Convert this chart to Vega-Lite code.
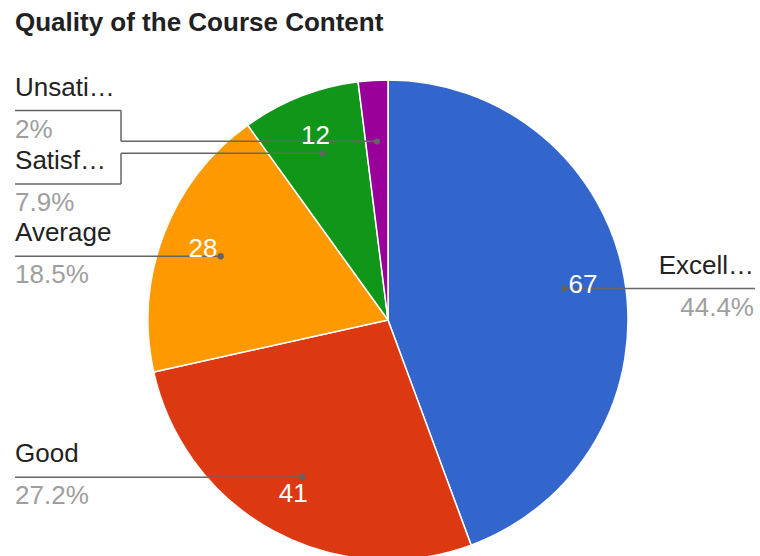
{
  "$schema": "https://vega.github.io/schema/vega-lite/v6.json",
  "width": 760,
  "height": 516,
  "autosize": {"type": "none"},
  "padding": {"top": 40, "left": 0, "right": 0, "bottom": 0},
  "background": "#ffffff",
  "title": {
    "text": "Quality of the Course Content",
    "anchor": "start",
    "frame": "group",
    "dx": 15,
    "dy": 27,
    "offset": 10,
    "baseline": "alphabetic",
    "font": "Liberation Sans",
    "fontSize": 26,
    "fontWeight": "bold",
    "color": "#212121"
  },
  "config": {"view": {"stroke": null}, "axis": {"disable": true}},
  "data": {
    "values": [
      {"category": "Excellent", "value": 67},
      {"category": "Good", "value": 41},
      {"category": "Average", "value": 28},
      {"category": "Satisfactory", "value": 12},
      {"category": "Unsatisfactory", "value": 3}
    ]
  },
  "transform": [
    {"joinaggregate": [{"op": "sum", "field": "value", "as": "total"}]},
    {"window": [{"op": "sum", "field": "value", "as": "cum"}], "sort": [{"field": "value", "order": "descending"}], "frame": [null, 0]},
    {"calculate": "datum.value/datum.total", "as": "pct"},
    {"calculate": "2*PI*(datum.cum-datum.value/2)/datum.total", "as": "mid"},
    {"calculate": "0.746*sin(datum.mid)", "as": "dotX"},
    {"calculate": "0.746*cos(datum.mid)", "as": "dotY"},
    {"calculate": "0.825*sin(datum.mid)", "as": "valX"},
    {"calculate": "0.825*cos(datum.mid)", "as": "valY"},
    {"calculate": "datum.dotX<0?-1:1", "as": "side"},
    {"calculate": "datum.side*1.1125", "as": "kinkX"},
    {"calculate": "datum.side<0?-1.554:1.529", "as": "edgeX"},
    {"calculate": "datum.side<0?-1.554:1.525", "as": "textX"},
    {"window": [{"op": "lag", "field": "dotY", "as": "prevY"}, {"op": "lead", "field": "dotY", "as": "nextY"}], "groupby": ["side"], "sort": [{"field": "dotY", "order": "descending"}]},
    {"calculate": "datum.dotY + (isValid(datum.nextY)?max(0,0.306-(datum.dotY-datum.nextY))/2:0) - (isValid(datum.prevY)?max(0,0.306-(datum.prevY-datum.dotY))/2:0)", "as": "labelY"}
  ],
  "layer": [
    {
      "mark": {"type": "arc", "outerRadius": 240, "stroke": "#ffffff", "strokeWidth": 1.5},
      "encoding": {
        "theta": {"field": "value", "type": "quantitative", "stack": true},
        "color": {
          "field": "category",
          "type": "nominal",
          "scale": {
            "domain": ["Excellent", "Good", "Average", "Satisfactory", "Unsatisfactory"],
            "range": ["#3366cc", "#dc3912", "#ff9900", "#109618", "#990099"]
          },
          "legend": null
        },
        "order": {"field": "value", "sort": "descending"},
        "x": {"datum": 0, "type": "quantitative", "scale": {"domain": [-1.616667, 1.55], "nice": false, "zero": false}, "axis": null},
        "y": {"datum": 0, "type": "quantitative", "scale": {"domain": [-0.983333, 1.166667], "nice": false, "zero": false}, "axis": null}
      }
    },
    {
      "mark": {"type": "rule", "color": "#666666", "strokeWidth": 1.5},
      "encoding": {
        "x": {"field": "dotX", "type": "quantitative", "scale": {"domain": [-1.616667, 1.55], "nice": false, "zero": false}, "axis": null},
        "x2": {"field": "kinkX"},
        "y": {"field": "dotY", "type": "quantitative", "scale": {"domain": [-0.983333, 1.166667], "nice": false, "zero": false}, "axis": null}
      }
    },
    {
      "mark": {"type": "rule", "color": "#666666", "strokeWidth": 1.5},
      "encoding": {
        "x": {"field": "kinkX", "type": "quantitative", "scale": {"domain": [-1.616667, 1.55], "nice": false, "zero": false}, "axis": null},
        "y": {"field": "dotY", "type": "quantitative", "scale": {"domain": [-0.983333, 1.166667], "nice": false, "zero": false}, "axis": null},
        "y2": {"field": "labelY"}
      }
    },
    {
      "mark": {"type": "rule", "color": "#666666", "strokeWidth": 1.5},
      "encoding": {
        "x": {"field": "kinkX", "type": "quantitative", "scale": {"domain": [-1.616667, 1.55], "nice": false, "zero": false}, "axis": null},
        "x2": {"field": "edgeX"},
        "y": {"field": "labelY", "type": "quantitative", "scale": {"domain": [-0.983333, 1.166667], "nice": false, "zero": false}, "axis": null}
      }
    },
    {
      "mark": {"type": "circle", "size": 40, "color": "#636363", "opacity": 1},
      "encoding": {
        "x": {"field": "dotX", "type": "quantitative", "scale": {"domain": [-1.616667, 1.55], "nice": false, "zero": false}, "axis": null},
        "y": {"field": "dotY", "type": "quantitative", "scale": {"domain": [-0.983333, 1.166667], "nice": false, "zero": false}, "axis": null}
      }
    },
    {
      "transform": [{"filter": "datum.pct >= 0.05"}],
      "mark": {"type": "text", "color": "#ffffff", "font": "Liberation Sans", "fontSize": 26, "align": "center", "baseline": "middle"},
      "encoding": {
        "x": {"field": "valX", "type": "quantitative", "scale": {"domain": [-1.616667, 1.55], "nice": false, "zero": false}, "axis": null},
        "y": {"field": "valY", "type": "quantitative", "scale": {"domain": [-0.983333, 1.166667], "nice": false, "zero": false}, "axis": null},
        "text": {"field": "value", "type": "quantitative"}
      }
    },
    {
      "transform": [{"filter": "datum.side < 0"}],
      "mark": {"type": "text", "color": "#222222", "font": "Liberation Sans", "fontSize": 26, "align": "left", "baseline": "alphabetic", "dy": -15, "limit": 103},
      "encoding": {
        "x": {"field": "textX", "type": "quantitative", "scale": {"domain": [-1.616667, 1.55], "nice": false, "zero": false}, "axis": null},
        "y": {"field": "labelY", "type": "quantitative", "scale": {"domain": [-0.983333, 1.166667], "nice": false, "zero": false}, "axis": null},
        "text": {"field": "category", "type": "nominal"}
      }
    },
    {
      "transform": [{"filter": "datum.side < 0"}],
      "mark": {"type": "text", "color": "#9e9e9e", "font": "Liberation Sans", "fontSize": 26, "align": "left", "baseline": "alphabetic", "dy": 27},
      "encoding": {
        "x": {"field": "textX", "type": "quantitative", "scale": {"domain": [-1.616667, 1.55], "nice": false, "zero": false}, "axis": null},
        "y": {"field": "labelY", "type": "quantitative", "scale": {"domain": [-0.983333, 1.166667], "nice": false, "zero": false}, "axis": null},
        "text": {"field": "pct", "type": "quantitative", "format": ".1~%"}
      }
    },
    {
      "transform": [{"filter": "datum.side > 0"}],
      "mark": {"type": "text", "color": "#222222", "font": "Liberation Sans", "fontSize": 26, "align": "right", "baseline": "alphabetic", "dy": -15, "limit": 103},
      "encoding": {
        "x": {"field": "textX", "type": "quantitative", "scale": {"domain": [-1.616667, 1.55], "nice": false, "zero": false}, "axis": null},
        "y": {"field": "labelY", "type": "quantitative", "scale": {"domain": [-0.983333, 1.166667], "nice": false, "zero": false}, "axis": null},
        "text": {"field": "category", "type": "nominal"}
      }
    },
    {
      "transform": [{"filter": "datum.side > 0"}],
      "mark": {"type": "text", "color": "#9e9e9e", "font": "Liberation Sans", "fontSize": 26, "align": "right", "baseline": "alphabetic", "dy": 27},
      "encoding": {
        "x": {"field": "textX", "type": "quantitative", "scale": {"domain": [-1.616667, 1.55], "nice": false, "zero": false}, "axis": null},
        "y": {"field": "labelY", "type": "quantitative", "scale": {"domain": [-0.983333, 1.166667], "nice": false, "zero": false}, "axis": null},
        "text": {"field": "pct", "type": "quantitative", "format": ".1~%"}
      }
    }
  ]
}
